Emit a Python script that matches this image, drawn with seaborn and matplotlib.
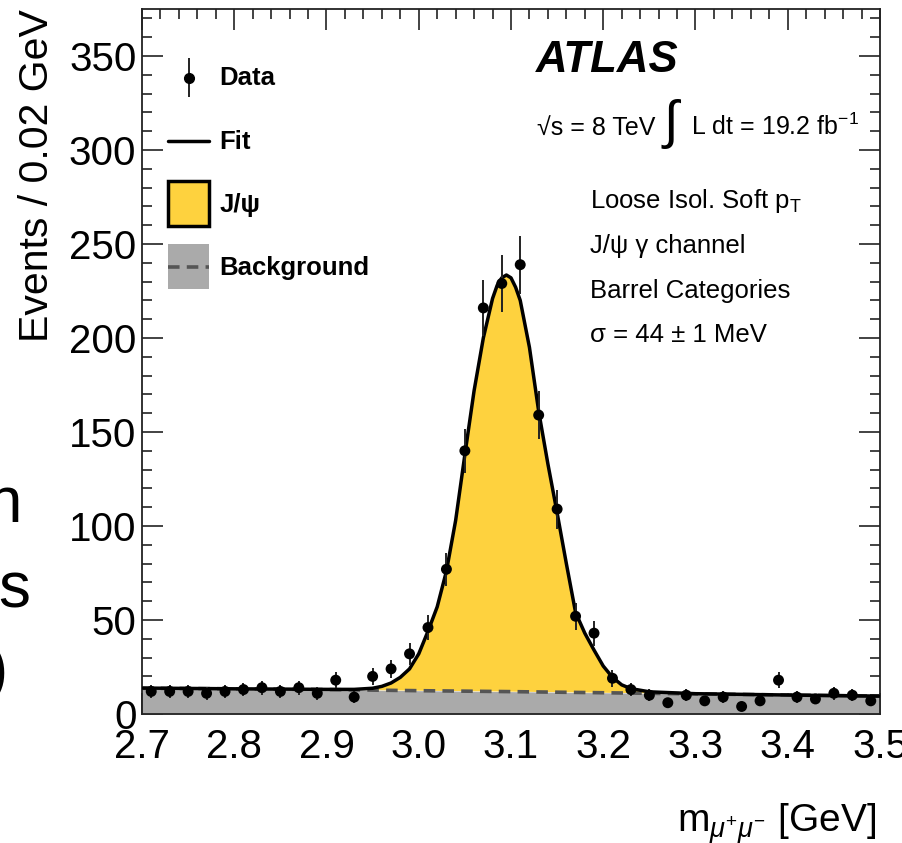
import numpy as np
import pandas as pd
import seaborn as sns
import matplotlib
matplotlib.use("Agg")
import matplotlib.pyplot as plt
from matplotlib.patches import Patch
from matplotlib.lines import Line2D
from matplotlib.container import ErrorbarContainer
from matplotlib.legend_handler import HandlerTuple, HandlerLine2D, HandlerErrorbar
from matplotlib.ticker import MultipleLocator

# ---------------- data ----------------
bin_centers = [2.71, 2.73, 2.75, 2.77, 2.79, 2.81, 2.83, 2.85, 2.87, 2.89,
               2.91, 2.93, 2.95, 2.97, 2.99, 3.01, 3.03, 3.05, 3.07, 3.09,
               3.11, 3.13, 3.15, 3.17, 3.19, 3.21, 3.23, 3.25, 3.27, 3.29,
               3.31, 3.33, 3.35, 3.37, 3.39, 3.41, 3.43, 3.45, 3.47, 3.49]
counts = [12, 12, 12, 11, 12, 13, 14, 12, 14, 11,
          18, 9, 20, 24, 32, 46, 77, 140, 216, 229,
          239, 159, 109, 52, 43, 19, 13, 10, 6, 10,
          7, 9, 4, 7, 18, 9, 8, 11, 10, 7]
count_errors = [3.5, 3.5, 3.5, 3.3, 3.5, 3.6, 3.7, 3.5, 3.7, 3.3,
                4.2, 3.0, 4.5, 4.9, 5.7, 6.8, 8.8, 11.8, 14.7, 15.1,
                15.5, 12.6, 10.4, 7.2, 6.6, 4.4, 3.6, 3.2, 2.4, 3.2,
                2.6, 3.0, 2.0, 2.6, 4.2, 3.0, 2.8, 3.3, 3.2, 2.6]

fit_x = [2.70, 2.80, 2.90, 2.93, 2.95, 2.96, 2.97, 2.98, 2.99, 3.00,
         3.01, 3.02, 3.03, 3.04, 3.05, 3.06, 3.07, 3.08, 3.085, 3.09,
         3.095, 3.10, 3.105, 3.11, 3.12, 3.13, 3.14, 3.15, 3.16, 3.17,
         3.18, 3.19, 3.20, 3.21, 3.22, 3.23, 3.25, 3.30, 3.40, 3.50]
fit_y = [13.8, 13.4, 13.1, 13.1, 13.7, 14.7, 16.5, 19.5, 24.0, 32.0,
         44.0, 57.0, 76.0, 103.0, 138.0, 172.0, 200.0, 221.0, 228.0, 232.0,
         233.5, 232.0, 227.0, 220.0, 195.0, 161.0, 133.0, 107.0, 80.0, 54.0,
         43.0, 34.0, 25.5, 19.5, 15.5, 13.5, 11.8, 10.8, 10.1, 9.5]

bkg_x = [2.70, 2.80, 2.90, 3.00, 3.10, 3.20, 3.30, 3.40, 3.50]
bkg_y = [13.7, 13.4, 13.0, 12.4, 11.9, 11.3, 10.7, 10.1, 9.5]

x_ticks = [2.7, 2.8, 2.9, 3.0, 3.1, 3.2, 3.3, 3.4, 3.5]
x_tick_labels = ["2.7", "2.8", "2.9", "3.0", "3.1", "3.2", "3.3", "3.4", "3.5"]
y_ticks = [0, 50, 100, 150, 200, 250, 300, 350]

df_data = pd.DataFrame({"mass": bin_centers, "events": counts, "err": count_errors})
df_fit = pd.DataFrame({"mass": fit_x, "events": fit_y})
df_bkg = pd.DataFrame({"mass": bkg_x, "events": bkg_y})

# ---------------- style ----------------
YELLOW = "#FED23E"
GRAY = "#AAAAAA"
DASH = "#555555"

sns.set_theme(style="ticks")
plt.rcParams["font.family"] = ["Liberation Sans", "DejaVu Sans"]
plt.rcParams["mathtext.fontset"] = "custom"
plt.rcParams["mathtext.rm"] = "Liberation Sans"
plt.rcParams["mathtext.it"] = "Liberation Sans:italic"
plt.rcParams["mathtext.bf"] = "Liberation Sans:bold"
for k in ["text.color", "axes.labelcolor", "xtick.color", "ytick.color", "axes.edgecolor"]:
    plt.rcParams[k] = "black"

W, H = 903, 843
fig = plt.figure(figsize=(W / 100, H / 100), dpi=100)
ax = fig.add_axes([142 / W, 1 - 714 / H, (880 - 142) / W, (714 - 9) / H])

# background fill
ax.fill_between(df_bkg["mass"], 0, df_bkg["events"], color=GRAY, lw=0, zorder=1)
# signal fill (polygon between fit and background)
poly_x = list(df_fit["mass"]) + list(df_bkg["mass"])[::-1]
poly_y = list(df_fit["events"]) + list(df_bkg["events"])[::-1]
ax.fill(poly_x, poly_y, color=YELLOW, lw=0, zorder=2)

# background dashed line
sns.lineplot(data=df_bkg, x="mass", y="events", ax=ax, color=DASH, lw=2.6,
             linestyle="--", zorder=3)
ax.lines[-1].set_dashes([3.2, 2.0])
# fit line
sns.lineplot(data=df_fit, x="mass", y="events", ax=ax, color="black", lw=2.5, zorder=4)

# data with error bars
ax.errorbar(df_data["mass"], df_data["events"], yerr=df_data["err"], fmt="none",
            ecolor="#222222", elinewidth=1.4, capsize=0, zorder=5)
sns.scatterplot(data=df_data, x="mass", y="events", ax=ax, color="black", s=62,
                edgecolor="none", zorder=6)

# axes
ax.set_xlim(2.7, 3.5)
ax.set_ylim(0, 375)
ax.set_xticks(x_ticks)
ax.set_xticklabels(x_tick_labels)
ax.set_yticks(y_ticks)
ax.xaxis.set_minor_locator(MultipleLocator(0.02))
ax.yaxis.set_minor_locator(MultipleLocator(10))
ax.tick_params(which="both", direction="in", top=True, right=True, width=1.2, color="#222222")
ax.tick_params(which="major", length=15)
ax.tick_params(which="minor", length=7.5)
ax.tick_params(axis="x", which="major", labelsize=29, pad=10)
ax.tick_params(axis="y", which="major", labelsize=29, pad=4)
for s in ax.spines.values():
    s.set_linewidth(1.3)
    s.set_color("#222222")
    s.set_visible(True)

ax.set_xlabel(r"m$_{\mu^{+}\mu^{-}}$ [GeV]", fontsize=28, loc="right")
ax.xaxis.set_label_coords(0.995, -0.124)
ax.set_ylabel("Events / 0.02 GeV", fontsize=29.5, loc="top")
ax.yaxis.set_label_coords(-0.117, 1.0)


# legend handlers: centre line-type handles on the same level as the boxes
class CenteredLine(HandlerLine2D):
    def create_artists(self, legend, orig_handle, xdescent, ydescent, width, height,
                       fontsize, trans):
        return super().create_artists(legend, orig_handle, xdescent, 2 * ydescent,
                                      width, height, fontsize, trans)


class CenteredErrorbar(HandlerErrorbar):
    def create_artists(self, legend, orig_handle, xdescent, ydescent, width, height,
                       fontsize, trans):
        return super().create_artists(legend, orig_handle, xdescent, 2 * ydescent,
                                      width, height, fontsize, trans)


h_data = ax.errorbar([np.nan], [np.nan], yerr=[1], fmt="o", color="black", ms=7,
                     ecolor="#222222", elinewidth=1.4)
h_fit = Line2D([], [], color="black", lw=2.5)
h_sig = Patch(facecolor=YELLOW, edgecolor="black", lw=2.5)
h_bkg_line = Line2D([], [], color=DASH, lw=2.6, dashes=[3.2, 2.0])
h_bkg = (Patch(facecolor=GRAY, edgecolor="none"), h_bkg_line)
ax.legend([h_data, h_fit, h_sig, h_bkg], ["Data", "Fit", "J/ψ", "Background"],
          handler_map={tuple: HandlerTuple(ndivide=1, pad=0),
                       Line2D: CenteredLine(),
                       ErrorbarContainer: CenteredErrorbar(xerr_size=0.5, yerr_size=0.75)},
          loc="upper left", bbox_to_anchor=((168 - 142) / 738, (714 - 55) / 705),
          frameon=False, borderpad=0, borderaxespad=0,
          prop={"weight": "bold", "size": 18.5},
          handlelength=1.6, handleheight=2.32, handletextpad=0.4, labelspacing=0.70)


def ftxt(px, py, s, **kw):
    fig.text(px / W, 1 - py / H, s, **kw)


ftxt(536, 72, "ATLAS", fontsize=31.5, fontweight="bold", fontstyle="italic", va="baseline")
ftxt(537, 135, "√s = 8 TeV", fontsize=18, va="baseline")
ftxt(671, 124, "∫", fontsize=38, ha="center", va="center", fontweight="light")
ftxt(691, 135, r"L dt = 19.2 fb$^{\mathrm{-1}}$", fontsize=18, va="baseline")
ftxt(590, 208, r"Loose Isol. Soft p$_{\mathrm{T}}$", fontsize=18.5, va="baseline")
ftxt(590, 253, "J/ψ γ channel", fontsize=18.5, va="baseline")
ftxt(590, 298, "Barrel Categories", fontsize=18.5, va="baseline")
ftxt(590, 342, "σ = 44 ± 1 MeV", fontsize=18.5, va="baseline")

# cropped fragments of neighbouring text at the left edge
ftxt(22, 522, "n", fontsize=46, ha="right", va="baseline")
ftxt(30, 607, "s", fontsize=46, ha="right", va="baseline")
ftxt(8, 690, ")", fontsize=46, ha="right", va="baseline")

fig.savefig("out.png", dpi=100)
